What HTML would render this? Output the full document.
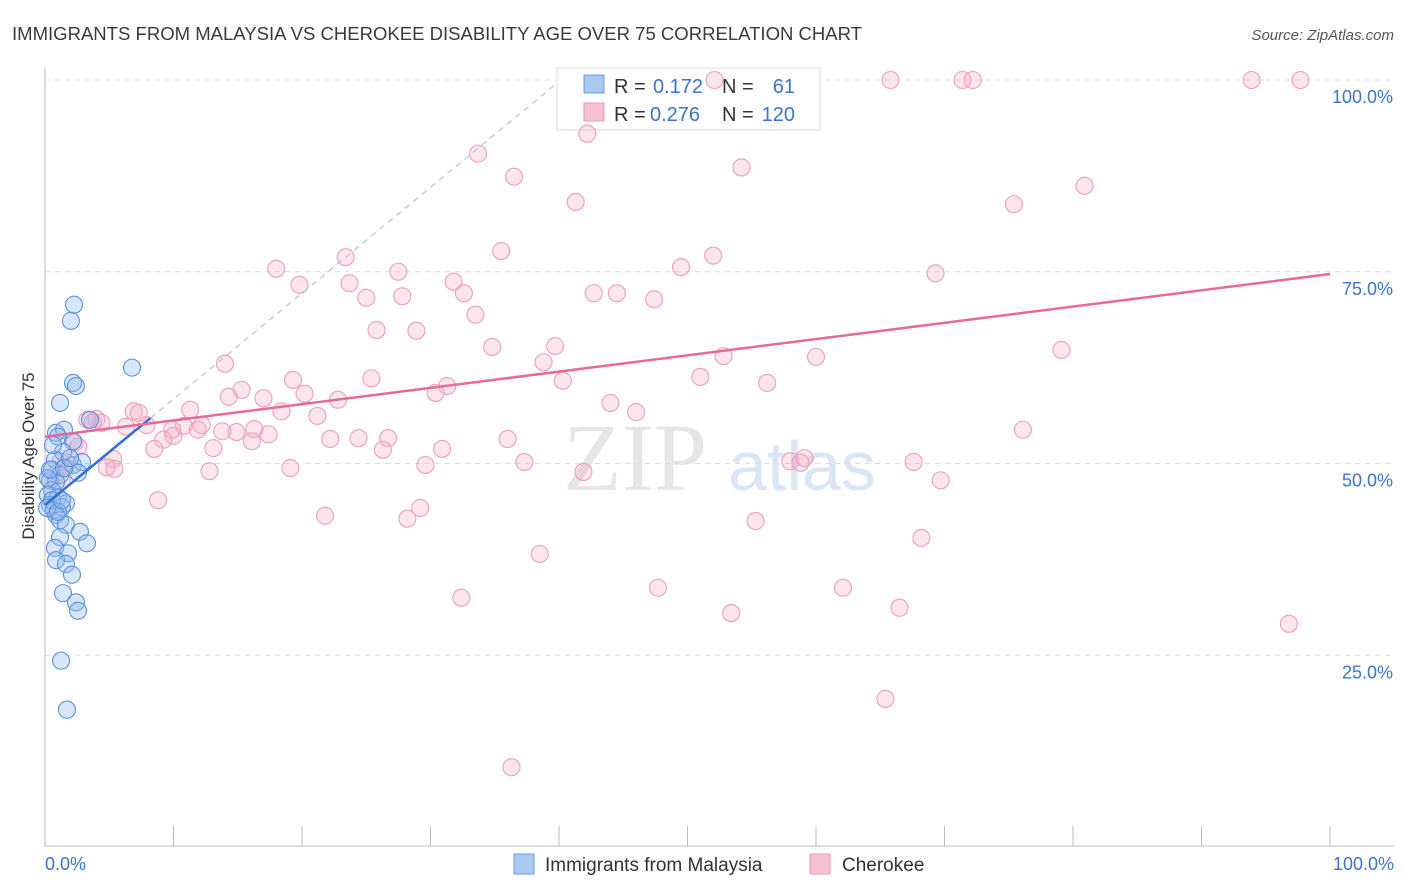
<!DOCTYPE html>
<html><head><meta charset="utf-8">
<style>
body{margin:0;background:#fff;font-family:"Liberation Sans",sans-serif;}
#wrap{position:relative;width:1406px;height:892px;overflow:hidden;}
</style></head>
<body>
<div id="wrap">
<svg id="svg" width="1406" height="892">
<text x="12" y="40" font-size="18" fill="#3a3a3a" textLength="850" lengthAdjust="spacingAndGlyphs">IMMIGRANTS FROM MALAYSIA VS CHEROKEE DISABILITY AGE OVER 75 CORRELATION CHART</text>
<text x="1394" y="40" font-size="15" fill="#555" text-anchor="end" font-style="italic">Source: ZipAtlas.com</text>
<text x="635" y="490" font-size="96" fill="#e6e6e6" text-anchor="middle" font-family="Liberation Serif,serif">ZIP</text>
<text x="802" y="490" font-size="70" fill="#d9e6f6" text-anchor="middle">atlas</text>
<g id="grid"></g>
<g id="axes"></g>
<g>
<rect x="557" y="68" width="263" height="62" fill="#fff" stroke="#ddd"/>
<rect x="584" y="75" width="20" height="18" fill="#a9c8f0" stroke="#6d9de0"/>
<rect x="584" y="103" width="20" height="18" fill="#f7c0d2" stroke="#e898b0"/>
<text x="614" y="93" font-size="20" fill="#333">R =</text>
<text x="653" y="93" font-size="20" fill="#3b73d0">0.172</text>
<text x="722" y="93" font-size="20" fill="#333">N =</text>
<text x="795" y="93" font-size="20" fill="#3b73d0" text-anchor="end">61</text>
<text x="614" y="121" font-size="20" fill="#333">R =</text>
<text x="650" y="121" font-size="20" fill="#3b73d0">0.276</text>
<text x="722" y="121" font-size="20" fill="#333">N =</text>
<text x="795" y="121" font-size="20" fill="#3b73d0" text-anchor="end">120</text>
</g>
<g id="pts"></g>
<g id="lines"></g>
<text transform="translate(34,456) rotate(-90)" font-size="17" fill="#333" text-anchor="middle">Disability Age Over 75</text>
<text x="45" y="870" font-size="18" fill="#3b73d0">0.0%</text>
<text x="1394" y="870" font-size="18" fill="#3b73d0" text-anchor="end">100.0%</text>
<g>
<rect x="514" y="854" width="20" height="20" fill="#a9c8f0" stroke="#6d9de0"/>
<text x="545" y="871" font-size="19" fill="#333">Immigrants from Malaysia</text>
<rect x="810" y="854" width="20" height="20" fill="#f7c0d2" stroke="#e898b0"/>
<text x="842" y="871" font-size="19" fill="#333">Cherokee</text>
</g>
</svg>
</div>
<script>
const yTicks=[25,50,75,100];
const yTickLabels=["25.0%","50.0%","75.0%","100.0%"];
const xTicks=[0,10,20,30,40,50,60,70,80,90,100];
const blueX=[2.26,2.02,6.77,2.18,2.41,1.17,3.5,0.86,1.48,1.01,2.18,1.4,0.78,2.18,2.88,0.54,1.17,2.57,0.39,0.86,0.54,0.23,1.01,1.63,0.39,0.7,1.32,0.86,1.17,1.63,2.72,1.17,3.27,0.78,1.79,0.86,1.63,2.1,1.4,2.41,2.57,1.25,1.71,0.23,0.54,0.16,1.01,1.32,0.39,0.62,1.48,1.95];
const blueY=[70.7,68.6,62.5,60.5,60.1,57.9,55.7,54.0,54.4,53.5,52.9,51.5,50.5,49.8,50.2,49.2,48.5,48.8,47.8,47.6,46.5,45.9,45.6,44.8,44.6,43.9,44.3,43.3,42.6,42.0,41.1,40.4,39.6,39.0,38.3,37.4,36.9,35.5,33.1,31.9,30.8,24.3,17.9,48.1,45.2,44.2,43.7,45.2,49.2,52.4,49.4,50.7];
const pinkX=[52.1,65.8,71.4,72.2,93.9,97.7,42.2,33.7,54.2,36.5,41.3,80.9,75.4,35.5,23.4,52.0,18.0,27.5,49.5,69.3,31.8,19.8,23.7,32.6,42.7,44.5,47.4,25.0,27.8,33.5,25.8,28.9,34.8,39.7,38.8,52.8,60.0,79.1,14.0,51.0,25.4,19.3,40.3,56.2,31.3,30.4,15.3,14.3,20.2,22.8,17.0,44.0,6.9,11.3,7.3,46.0,18.4,21.2,4.0,3.3,4.4,6.3,7.9,12.2,10.8,9.9,14.9,16.3,17.4,13.8,16.1,22.2,24.4,26.7,10.0,11.9,9.2,2.3,2.6,8.5,13.1,26.3,30.9,36.0,76.1,19.1,12.8,1.7,1.2,5.3,4.8,5.4,29.6,37.3,58.0,58.8,59.1,67.6,69.7,41.9,8.8,21.8,29.2,28.2,55.3,68.2,38.5,32.4,47.7,62.1,53.4,66.5,96.8,65.4,36.3,1.6,1.3,0.8,3.7];
const pinkY=[100,100,100,100,100,100,93.0,90.4,88.6,87.4,84.1,86.2,83.8,77.7,76.9,77.1,75.4,75.0,75.6,74.8,73.7,73.3,73.5,72.2,72.2,72.2,71.4,71.6,71.8,69.4,67.4,67.3,65.2,65.3,63.2,64.0,63.9,64.8,63.0,61.3,61.1,60.9,60.8,60.5,60.1,59.2,59.6,58.7,59.1,58.3,58.5,57.9,56.8,57.0,56.6,56.7,56.8,56.2,55.8,55.7,55.3,54.8,55.0,55.0,54.9,54.4,54.1,54.5,53.8,54.2,52.9,53.2,53.3,53.3,53.6,54.4,53.1,52.7,52.2,51.9,52.0,51.8,51.9,53.2,54.4,49.4,49.0,50.1,50.2,50.6,49.5,49.3,49.8,50.2,50.3,50.1,50.7,50.2,47.8,48.9,45.2,43.2,44.2,42.8,42.5,40.3,38.2,32.5,33.8,33.8,30.5,31.2,29.1,19.3,10.4,49.5,47.7,48.5,55.3];
const blueTrend=[44.6,1.38];
const blueTrendRange=[0,8.2,39.6];
const pinkTrend=[53.5,0.212];
const pinkTrendRange=[0,100];

const NS="http://www.w3.org/2000/svg";
const X=v=>45+v*12.85;
const Y=v=>847-v*7.67;
function mk(tag,attrs,parent){const e=document.createElementNS(NS,tag);for(const k in attrs)e.setAttribute(k,attrs[k]);document.getElementById(parent).appendChild(e);return e;}

yTicks.forEach((t,i)=>{
  const l=mk('line',{x1:45,x2:1394,y1:Y(t),y2:Y(t),stroke:'#dcdcdc','stroke-dasharray':'5,5'},'grid');
  
  
  const tx=mk('text',{x:1393,y:Y(t)+23,'font-size':18,fill:'#3b73d0','text-anchor':'end'},'grid');
  tx.textContent=yTickLabels[i];
  
  
});
const ya=mk('line',{x1:45,x2:45,y1:68,y2:846,stroke:'#bbb'},'axes');


const xa=mk('line',{x1:45,x2:1394,y1:846,y2:846,stroke:'#bbb'},'axes');


xTicks.forEach(t=>{
  const l=mk('line',{x1:X(t),x2:X(t),y1:826,y2:846,stroke:'#bbb'},'axes');
  
  
});
pinkX.forEach((v,i)=>{
  const c=mk('circle',{cx:X(v),cy:Y(pinkY[i]),r:8.5,fill:'rgba(245,170,195,0.3)',stroke:'#eca0b8','stroke-width':1.1},'pts');
  
  
});
blueX.forEach((v,i)=>{
  const c=mk('circle',{cx:X(v),cy:Y(blueY[i]),r:8.5,fill:'rgba(150,190,240,0.38)',stroke:'#5a91dc','stroke-width':1.1},'pts');
  
  
});
const bf=x=>blueTrend[0]+blueTrend[1]*x;
const bd=mk('line',{x1:X(blueTrendRange[1]),y1:Y(bf(blueTrendRange[1])),x2:X(blueTrendRange[2]),y2:Y(bf(blueTrendRange[2])),stroke:'#9bbbe8','stroke-width':1,'stroke-dasharray':'6,5'},'lines');


const bl=mk('line',{x1:X(blueTrendRange[0]),y1:Y(bf(blueTrendRange[0])),x2:X(blueTrendRange[1]),y2:Y(bf(blueTrendRange[1])),stroke:'#2f6fd6','stroke-width':2.5},'lines');


const pf=x=>pinkTrend[0]+pinkTrend[1]*x;
const pl=mk('line',{x1:X(pinkTrendRange[0]),y1:Y(pf(pinkTrendRange[0])),x2:X(pinkTrendRange[1]),y2:Y(pf(pinkTrendRange[1])),stroke:'#e8689a','stroke-width':2.5},'lines');


</script>
</body></html>
